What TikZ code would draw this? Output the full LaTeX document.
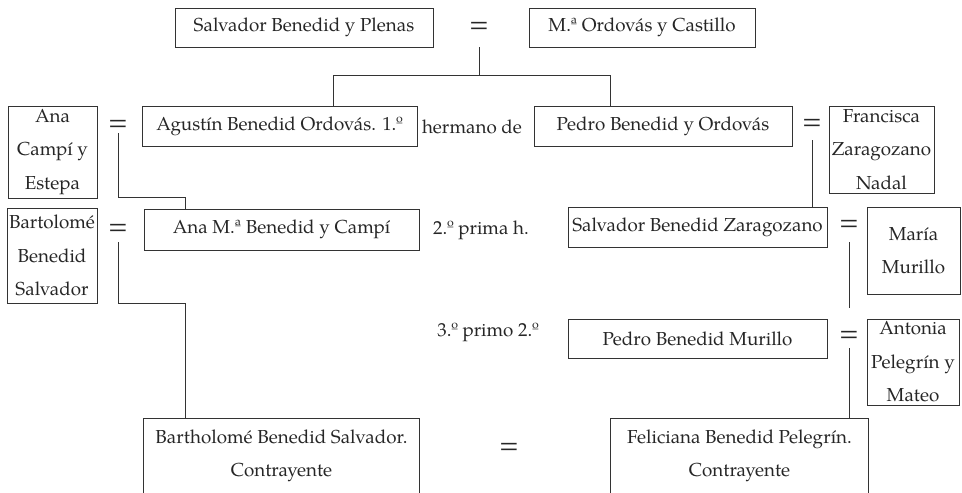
\documentclass[tikz,border=0pt]{standalone}
\usepackage{fontspec}
\setmainfont{TeX Gyre Pagella}
\begin{document}
\begin{tikzpicture}[x=1pt,y=-1pt,
  every node/.style={text=black!85},
  txt/.style={font=\fontsize{18.8}{33.5}\selectfont, inner sep=0pt, align=center},
  pbox/.style={txt, draw=black!80, line width=0.9pt},
  eqs/.style={font=\fontsize{26}{26}\selectfont, inner sep=0pt},
  link/.style={draw=black!80, line width=0.9pt}]
\useasboundingbox (0,0) rectangle (962,493);
% top couple
\node[pbox, minimum width=258pt, minimum height=39pt] (spb) at (304,27.5) {Salvador Benedid y Plenas};
\node[eqs] (eq1) at (479,27) {=};
\node[pbox, minimum width=226pt, minimum height=39pt] (mo) at (642,27.5) {M.ª Ordovás y Castillo};
% second row
\node[pbox, minimum width=89pt, minimum height=92pt] (ana) at (52.5,152) {Ana\\Campí y\\Estepa};
\node[eqs] (eq2) at (118,125) {=};
\node[pbox, minimum width=275pt, minimum height=40pt] (ag) at (279.5,126) {Agustín Benedid Ordovás. 1.º};
\node[txt] (herm) at (472,127) {hermano de};
\node[pbox, minimum width=258pt, minimum height=40pt] (pbo) at (663,126) {Pedro Benedid y Ordovás};
\node[eqs] (eq3) at (812,124) {=};
\node[pbox, minimum width=105pt, minimum height=87pt] (fz) at (881.5,149.5) {Francisca\\Zaragozano\\Nadal};
% third row
\node[pbox, minimum width=90pt, minimum height=95pt] (bbs) at (52,255.5) {Bartolomé\\Benedid\\Salvador};
\node[eqs] (eq4) at (118,229) {=};
\node[pbox, minimum width=275pt, minimum height=41pt] (anam) at (281.5,229.5) {Ana M.ª Benedid y Campí};
\node[txt] (prima) at (481,230) {2.º prima h.};
\node[pbox, minimum width=259pt, minimum height=40pt] (sbz) at (697.5,227) {Salvador Benedid Zaragozano};
\node[eqs] (eq5) at (849,225) {=};
\node[pbox, minimum width=93pt, minimum height=87pt] (mm) at (913.5,250.5) {María\\Murillo};
% fourth row
\node[txt] (primo) at (488,332) {3.º primo 2.º};
\node[pbox, minimum width=259pt, minimum height=39pt] (pbm) at (697.5,338.5) {Pedro Benedid Murillo};
\node[eqs] (eq6) at (849,336) {=};
\node[pbox, minimum width=92pt, minimum height=86pt] (apm) at (913,362) {Antonia\\Pelegrín y\\Mateo};
% bottom
\node[txt, minimum width=275pt, minimum height=74pt] (bl) at (281.5,456) {Bartholomé Benedid Salvador.\\Contrayente};
\node[eqs] (eq7) at (509,448) {=};
\node[txt, minimum width=257pt, minimum height=74pt] (br) at (739.5,456) {Feliciana Benedid Pelegrín.\\Contrayente};
\draw[link] (bl.south west) |- (bl.north east) -- (bl.south east);
\draw[link] (br.south west) |- (br.north east) -- (br.south east);
% connectors
\coordinate (c1) at (333,75);
\coordinate (c2) at (610,75);
\draw[link] (eq1 |- spb.south) -- (eq1 |- c1);
\draw[link] (c1 |- ag.north) -- (c1) -- (c2) -- (c2 |- pbo.north);
\coordinate (c3) at (118,197);
\coordinate (c4) at (185,197);
\draw[link] ([yshift=-8pt]eq2.center) -- (c3) -- (c4) -- (c4 |- anam.north);
\draw[link] ([yshift=-16pt]eq3.center) -- (eq3 |- sbz.north);
\coordinate (c5) at (118,303);
\coordinate (c6) at (185,303);
\draw[link] ([yshift=-13pt]eq4.center) -- (c5) -- (c6) -- (c6 |- bl.north);
\coordinate (c7) at (849,308);
\draw[link] ([yshift=-17pt]eq5.center) -- (c7);
\draw[link] ([yshift=-12pt]eq6.center) -- (eq6 |- br.north);
\end{tikzpicture}
\end{document}
